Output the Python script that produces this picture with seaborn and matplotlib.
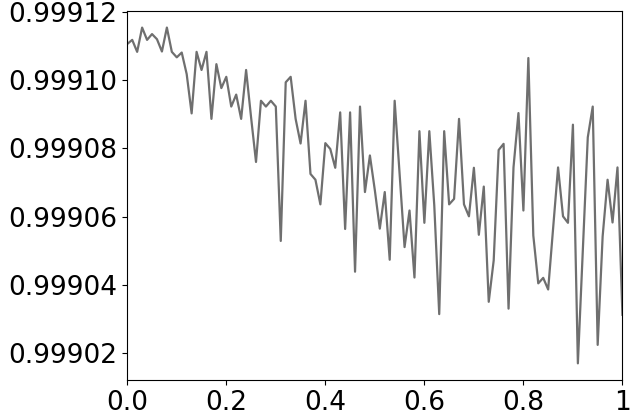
import numpy as np
import pandas as pd
import seaborn as sns
import matplotlib
matplotlib.use("Agg")
import matplotlib.pyplot as plt

# values, stored as offset from 0.999 in units of 1e-5
offsets = [
	11.05, 11.17, 10.82, 11.53, 11.17, 11.34, 11.19, 10.83, 11.53, 10.82,
	10.66, 10.80, 10.17, 9.02, 10.82, 10.29, 10.82, 8.86, 10.46, 9.76,
	10.09, 9.22, 9.57, 8.86, 10.29, 8.91, 7.60, 9.39, 9.22, 9.39,
	9.22, 5.29, 9.93, 10.09, 8.86, 8.14, 9.39, 7.25, 7.08, 6.36,
	8.15, 7.98, 7.43, 9.05, 5.64, 9.05, 4.39, 9.22, 6.72, 7.79,
	6.77, 5.65, 6.72, 4.74, 9.39, 7.25, 5.11, 6.18, 4.22, 8.50,
	5.82, 8.50, 6.33, 3.15, 8.50, 6.36, 6.52, 8.86, 6.36, 6.01,
	7.43, 5.47, 6.88, 3.51, 4.72, 7.95, 8.13, 3.31, 7.44, 9.03,
	6.18, 10.64, 5.45, 4.05, 4.21, 3.87, 5.66, 7.44, 6.01, 5.82,
	8.69, 1.71, 5.02, 8.32, 9.22, 2.25, 5.42, 7.08, 5.83, 7.44,
	3.13,
]
values = 0.999 + np.array(offsets) * 1e-5
xs = np.arange(len(values)) / 100.0

xtick_pos = [0.0, 0.2, 0.4, 0.6, 0.8, 1.0]
xtick_labels = ["0.0", "0.2", "0.4", "0.6", "0.8", "1"]

df = pd.DataFrame({"x": xs, "y": values})

fig, ax = plt.subplots(figsize=(6.3, 4.15), dpi=100)
fig.subplots_adjust(left=0.202, right=0.988, top=0.974, bottom=0.084)

sns.lineplot(data=df, x="x", y="y", color="#6f6f6f", linewidth=1.6, ax=ax)

ax.set_xlim(0, 1)
ax.set_xticks(xtick_pos)
ax.set_xticklabels(xtick_labels)
ax.ticklabel_format(axis="y", useOffset=False)
ax.set_xlabel("")
ax.set_ylabel("")
ax.tick_params(labelsize=19)

plt.savefig("out.png", dpi=100)
